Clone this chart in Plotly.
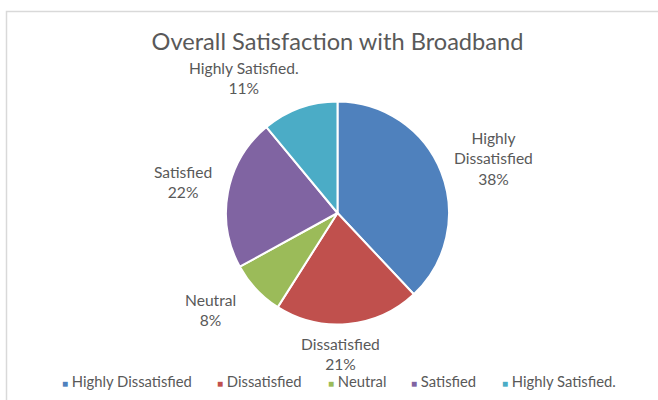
import plotly.graph_objects as go

# Survey results
categories = ["Highly Dissatisfied", "Dissatisfied", "Neutral", "Satisfied", "Highly Satisfied."]
values = [38, 21, 8, 22, 11]
slice_colors = ["#4F81BD", "#C0504D", "#9BBB59", "#8064A2", "#4BACC6"]

W, H = 658, 400
FONT = "Lato"
TEXT_COLOR = "#595959"


def px(x):
    return x / W


def py(y):
    return 1 - y / H


total = sum(values)
percents = [round(v / total * 100) for v in values]

fig = go.Figure()

# Pie area in pixels: left 226, right 449, top 100, bottom 325
fig.add_trace(go.Pie(
    labels=categories,
    values=values,
    sort=False,
    direction="clockwise",
    rotation=0,
    marker=dict(colors=slice_colors, line=dict(color="white", width=2)),
    textinfo="none",
    showlegend=False,
    domain=dict(x=[px(226), px(449)], y=[py(326), py(100)]),
))

# Data labels placed around the pie (pixel centres)
label_pos = {
    "Highly Dissatisfied": (493, 158),
    "Dissatisfied": (341, 354),
    "Neutral": (210, 310),
    "Satisfied": (183, 182),
    "Highly Satisfied.": (244, 78),
}
annotations = []
for cat, pct in zip(categories, percents):
    name = cat.replace("Highly ", "Highly<br>") if cat == "Highly Dissatisfied" else cat
    x, y = label_pos[cat]
    annotations.append(dict(
        text=f"{name}<br>{pct}%", x=px(x), y=py(y), xref="paper", yref="paper",
        xanchor="center", yanchor="middle", showarrow=False, align="center",
        font=dict(family=FONT, size=15.6, color=TEXT_COLOR),
    ))

# Legend row along the bottom
legend_x = [60, 215, 326, 409, 500]
for cat, col, x in zip(categories, slice_colors, legend_x):
    annotations.append(dict(
        text=f'<span style="color:{col}; font-size:10px">■</span> {cat}',
        x=px(x), y=py(381), xref="paper", yref="paper",
        xanchor="left", yanchor="middle", showarrow=False,
        font=dict(family=FONT, size=14.8, color=TEXT_COLOR),
    ))

fig.update_layout(
    width=W, height=H,
    margin=dict(l=0, r=0, t=0, b=0),
    paper_bgcolor="white",
    plot_bgcolor="white",
    title=dict(
        text="Overall Satisfaction with Broadband",
        x=px(337.5), xanchor="center", y=py(42), yanchor="middle",
        font=dict(family=FONT, size=23.6, color=TEXT_COLOR),
    ),
    annotations=annotations,
    shapes=[dict(
        type="rect", xref="paper", yref="paper",
        x0=px(6.5), x1=px(W + 10), y0=py(H + 10), y1=py(11.5),
        line=dict(color="#D9D9D9", width=1.5),
    )],
)

fig.write_html("out.html")
